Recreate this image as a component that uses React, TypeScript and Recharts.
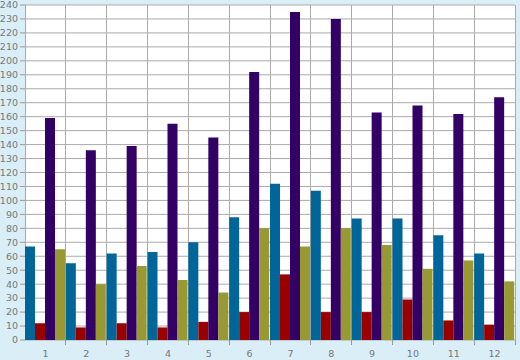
import { Bar, BarChart, CartesianGrid, XAxis, YAxis } from 'recharts';

const categories = ['1', '2', '3', '4', '5', '6', '7', '8', '9', '10', '11', '12'];
const tealValues = [67, 55, 62, 63, 70, 88, 112, 107, 87, 87, 75, 62];
const redValues = [12, 9, 12, 9, 13, 20, 47, 20, 20, 29, 14, 11];
const purpleValues = [159, 136, 139, 155, 145, 192, 235, 230, 163, 168, 162, 174];
const oliveValues = [65, 40, 53, 43, 34, 80, 67, 80, 68, 51, 57, 42];
const yTicks = [0, 10, 20, 30, 40, 50, 60, 70, 80, 90, 100, 110, 120, 130, 140, 150, 160, 170, 180, 190, 200, 210, 220, 230, 240];

const data = categories.map((c, i) => ({
  name: c,
  teal: tealValues[i],
  red: redValues[i],
  purple: purpleValues[i],
  olive: oliveValues[i],
}));

const W = 520;
const H = 360;
const LEFT = 25;
const RIGHT = 5;
const BAND = (W - LEFT - RIGHT) / categories.length;
const labelFont = { fontFamily: 'DejaVu Sans', fontSize: 9.5, fill: '#777' };

// crisp 1px lines at category boundaries
const crisp = (v: number) => Math.floor(v) + 0.5;

function CategoryTick(props: any) {
  const { x, y, payload, index } = props;
  const edge = crisp(x - BAND / 2);
  const end = crisp(x + BAND / 2);
  return (
    <g>
      {index > 0 && <line x1={edge} y1={y} x2={edge} y2={y + 5} stroke="#999" />}
      {index === categories.length - 1 && <line x1={end} y1={y} x2={end} y2={y + 5} stroke="#999" />}
      <text x={x} y={y + 17} textAnchor="middle" {...labelFont}>
        {payload.value}
      </text>
    </g>
  );
}

export default function App() {
  return (
    <div style={{ position: 'absolute', left: 0, top: 0, width: W, height: H, background: '#d9eef7' }}>
      <BarChart
        width={W}
        height={H}
        data={data}
        margin={{ top: 5, right: RIGHT, bottom: 0, left: 0 }}
        barCategoryGap={0}
        barGap={0}
      >
        <CartesianGrid
          stroke="#aaa"
          fill="#fff"
          verticalCoordinatesGenerator={({ offset }: any) =>
            categories.map((_, i) => crisp(offset.left + i * BAND)).concat(crisp(offset.left + offset.width))
          }
        />
        <XAxis
          dataKey="name"
          height={20}
          axisLine={false}
          tickLine={false}
          tickSize={0}
          tickMargin={0}
          interval={0}
          tick={<CategoryTick />}
        />
        <YAxis
          width={LEFT}
          domain={[0, 240]}
          ticks={yTicks}
          interval={0}
          axisLine={false}
          tickSize={5}
          tickMargin={2}
          tickLine={{ stroke: '#999' }}
          tick={labelFont}
        />
        <Bar dataKey="teal" fill="#006699" isAnimationActive={false} />
        <Bar dataKey="red" fill="#990000" isAnimationActive={false} />
        <Bar dataKey="purple" fill="#330066" isAnimationActive={false} />
        <Bar dataKey="olive" fill="#999933" isAnimationActive={false} />
      </BarChart>
    </div>
  );
}
